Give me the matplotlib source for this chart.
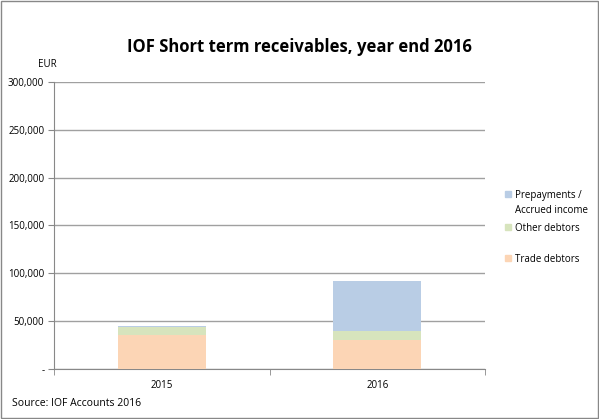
import numpy as np
import matplotlib.pyplot as plt
from matplotlib.patches import Rectangle
from matplotlib.ticker import FuncFormatter

years = ["2015", "2016"]
trade_debtors = [35500, 30300]
other_debtors = [8700, 9500]
prepayments = [500, 52000]
series_names = ["Trade debtors", "Other debtors", "Prepayments /\nAccrued income"]
colors = ["#fcd5b5", "#d7e4bd", "#b9cde5"]

fig = plt.figure(figsize=(5.99, 4.19), dpi=100)
plt.rcParams['font.family'] = ['Open Sans', 'DejaVu Sans']
ax = fig.add_axes([54/599, 1-369/419, 431/599, 287/419])

x = np.arange(len(years))
bottom = np.zeros(len(years))
for vals, name, col in zip([trade_debtors, other_debtors, prepayments], series_names, colors):
    ax.bar(x, vals, width=0.41, bottom=bottom, color=col, label=name, zorder=3)
    bottom += np.array(vals)

ax.set_xlim(-0.5, 1.5)
ax.set_ylim(0, 300000)
ax.set_yticks(np.arange(0, 300001, 50000))
ax.yaxis.set_major_formatter(FuncFormatter(lambda v, p: "-" if v == 0 else f"{int(v):,}"))
ax.set_xticks(x)
ax.set_xticklabels(years)
ax.set_xticks([-0.5, 0.5, 1.5], minor=True)
ax.tick_params(axis='x', which='major', length=0, labelsize=7, pad=8)
ax.tick_params(axis='x', which='minor', length=4, color='#888888', direction='out')
ax.tick_params(axis='y', length=4, color='#888888', labelsize=7, pad=3)
ax.grid(axis='y', color='#a0a0a0', linewidth=1, zorder=0)
for s in ['top', 'right']:
    ax.spines[s].set_visible(False)
for s in ['left', 'bottom']:
    ax.spines[s].set_color('#888888')

fig.text(0.5, 1-47/419, "IOF Short term receivables, year end 2016", ha='center', va='center',
         fontsize=12, fontweight='bold')
fig.text(38/599, 1-64/419, "EUR", fontsize=7, va='center')
fig.text(12/599, 1-403/419, "Source: IOF Accounts 2016", fontsize=7.5, va='center')

# legend, placed by hand like the Excel original (pixel row of first text line)
leg_rows = [258, 227, 194]
for name, col, row in zip(series_names, colors, leg_rows):
    fig.patches.append(Rectangle((505/599, 1-(row+3)/419), 6/599, 6/419, color=col,
                                 transform=fig.transFigure, figure=fig))
    fig.text(515/599, 1-(row-4)/419, name, fontsize=7, va='top', linespacing=1.45)

fig.patches.append(Rectangle((0.002, 0.002), 0.996, 0.996, fill=False, edgecolor='#888888',
                             linewidth=1, transform=fig.transFigure, figure=fig))

fig.savefig("out.png", dpi=100)
